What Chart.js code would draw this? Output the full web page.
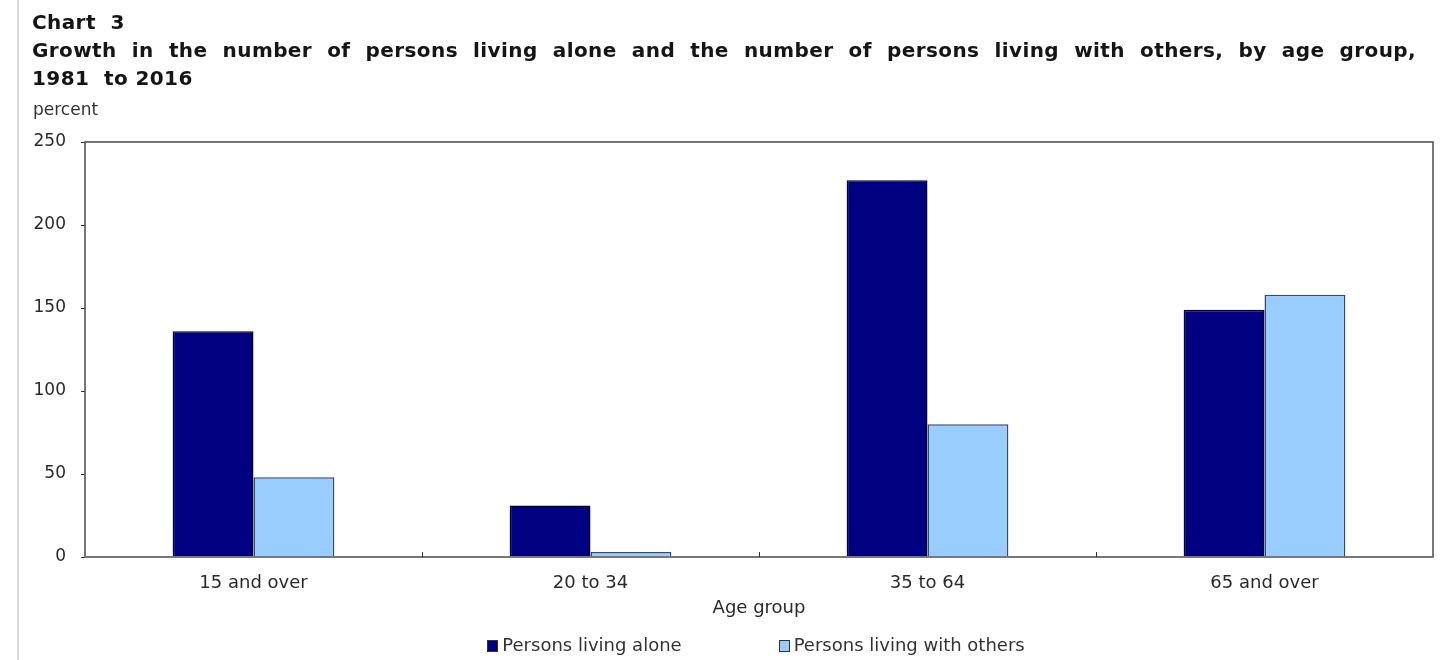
<!DOCTYPE html>
<html>
<head>
<meta charset="utf-8">
<script src="https://cdn.jsdelivr.net/npm/chart.js@4.4.1/dist/chart.umd.min.js"></script>
<style>
  html, body { margin: 0; padding: 0; background: #fff; }
  body { width: 1454px; height: 660px; position: relative; overflow: hidden;
         font-family: "DejaVu Sans", Verdana, sans-serif; color: #222; }
  #bordaPagina { position: absolute; left: 17px; top: 0; width: 2px; height: 660px; background: #d9d9d9; }
  #titulo { position: absolute; left: 32px; top: 8px; width: 1384px; font-weight: bold;
            font-size: 20px; line-height: 28px; letter-spacing: 0.4px; color: #151515; }
  #titulo .just { text-align: justify; text-align-last: justify; }
  #unidade { position: absolute; left: 33px; top: 99px; font-size: 17px; line-height: 20px; color: #333; }
  #grafico { position: absolute; left: 0; top: 0; width: 1454px; height: 660px; }
  #legenda { position: absolute; left: 0; width: 1512px; top: 634px; display: flex;
             justify-content: center; gap: 97px; font-size: 18px; line-height: 22px; color: #333; }
  #legenda span.caixa { display: inline-block; width: 9px; height: 10px; margin-right: 4px;
                        border: 1px solid #333; vertical-align: -1px; }
</style>
</head>
<body>
<div id="bordaPagina"></div>
<div id="grafico"><canvas id="myChart"></canvas></div>
<div id="titulo">
  <div>Chart&nbsp; 3</div>
  <div class="just">Growth in the number of persons living alone and the number of persons living with others, by age group,</div>
  <div>1981&nbsp; to 2016</div>
</div>
<div id="unidade">percent</div>
<div id="legenda"></div>

<script>
const faixas = ["15 and over", "20 to 34", "35 to 64", "65 and over"];
const moramSozinhas = [136, 31, 227, 149];
const moramComOutros = [48, 3, 80, 158];
const ticksY = [0, 50, 100, 150, 200, 250];

const fonte = "'DejaVu Sans', Verdana, sans-serif";

// moldura do grafico e marcas internas entre as categorias
const moldura = {
  id: "moldura",
  afterDatasetsDraw(chart) {
    const { ctx, chartArea: a, scales: { x } } = chart;
    ctx.save();
    ctx.strokeStyle = "#4a4a4a";
    ctx.lineWidth = 1.5;
    ctx.strokeRect(a.left, a.top, a.right - a.left, a.bottom - a.top);
    ctx.strokeStyle = "#777";
    ctx.lineWidth = 2;
    ctx.beginPath();
    ctx.moveTo(a.left, a.bottom);
    ctx.lineTo(a.right, a.bottom);
    ctx.stroke();
    ctx.strokeStyle = "#333";
    ctx.lineWidth = 1;
    for (let i = 1; i < faixas.length; i++) {
      const px = Math.round((x.getPixelForValue(i - 1) + x.getPixelForValue(i)) / 2) + 0.5;
      ctx.beginPath();
      ctx.moveTo(px, a.bottom);
      ctx.lineTo(px, a.bottom - 5);
      ctx.stroke();
    }
    ctx.restore();
  },
};

const chartInstance = new Chart(document.getElementById("myChart"), {
  type: "bar",
  data: {
    labels: faixas,
    datasets: [
      {
        label: "Persons living alone",
        data: moramSozinhas,
        backgroundColor: "#000080",
        borderColor: "#000033",
        borderWidth: 1.5,
      },
      {
        label: "Persons living with others",
        data: moramComOutros,
        backgroundColor: "#99ccff",
        borderColor: "#3c4a60",
        borderWidth: 1.5,
      },
    ],
  },
  options: {
    responsive: true,
    maintainAspectRatio: false,
    animation: false,
    layout: { padding: { top: 142, right: 21, bottom: 41, left: 0 } },
    datasets: { bar: { categoryPercentage: 0.48, barPercentage: 1.0 } },
    scales: {
      x: {
        grid: { display: false, drawTicks: false },
        border: { display: false },
        afterFit: (s) => { s.height = 62; },
        ticks: { padding: 16, color: "#2a2a2a", font: { size: 18, family: fonte } },
        title: {
          display: true,
          text: "Age group",
          color: "#2a2a2a",
          font: { size: 18, family: fonte },
          padding: { top: 0, bottom: 0 },
        },
      },
      y: {
        min: 0,
        max: 250,
        afterBuildTicks: (s) => { s.ticks = ticksY.map((v) => ({ value: v })); },
        afterFit: (s) => { s.width = 85; },
        grid: { drawOnChartArea: false, drawTicks: true, tickLength: 4, color: "#333" },
        border: { display: false },
        ticks: { padding: 15, color: "#2a2a2a", font: { size: 17, family: fonte } },
      },
    },
    plugins: {
      legend: { display: false },
      tooltip: { enabled: false },
    },
  },
  plugins: [moldura],
});

// legenda em html a partir dos datasets
const legenda = document.getElementById("legenda");
chartInstance.data.datasets.forEach((ds) => {
  const item = document.createElement("div");
  const caixa = document.createElement("span");
  caixa.className = "caixa";
  caixa.style.background = ds.backgroundColor;
  item.appendChild(caixa);
  item.appendChild(document.createTextNode(ds.label));
  legenda.appendChild(item);
});
</script>
</body>
</html>
